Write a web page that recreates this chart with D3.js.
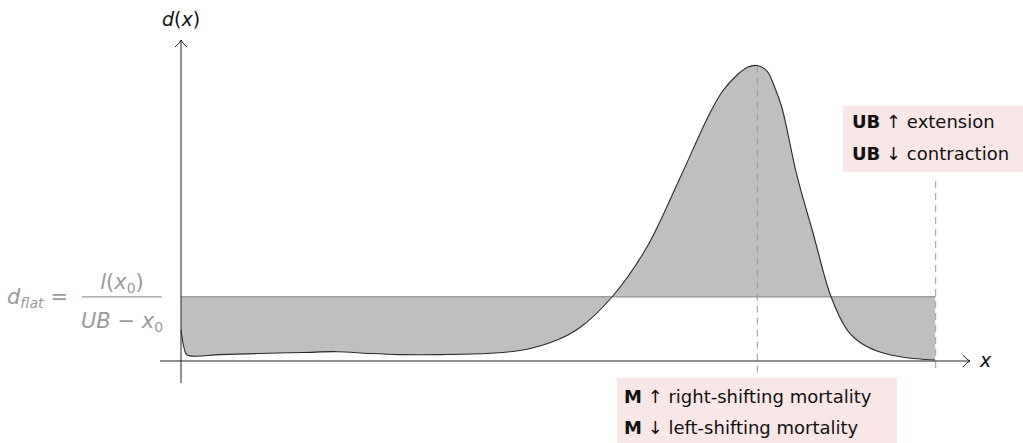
<!DOCTYPE html>
<html lang="en">
<head>
<meta charset="UTF-8">
<title>Flat density vs age-at-death density</title>
<style>
  body { margin: 0; background: #fff; font-family: "DejaVu Sans", sans-serif; }
  .box-text { font-size: 18px; fill: #111; }
  .formula { fill: #9a9a9a; font-size: 21px; }
</style>
</head>
<body>
<svg id="chart" width="1023" height="443"></svg>
<script src="https://d3js.org/d3.v7.min.js"></script>
<script>
// ages (x) and density values d(x), in units of d_flat
const ages = [0, 0.45, 0.9, 5.7, 11.5, 17.8, 22.7, 27.5, 31.9, 38, 45.0, 49.85, 54.8, 58.16,
              62.82, 67.92, 72.73, 76.81, 78.85, 81.04, 82.64, 83.95, 85.41, 86.58, 87.6,
              89.79, 92.12, 94.75, 97.08, 99.26, 101.88, 105.53, 109.9];
const dens = [0.48, 0.2, 0.094, 0.10, 0.117, 0.132, 0.145, 0.117, 0.10, 0.10, 0.12, 0.171, 0.327, 0.522,
              0.997, 1.776, 2.85, 3.801, 4.19, 4.455, 4.579, 4.603, 4.517, 4.252, 3.941,
              2.882, 1.994, 1.0, 0.486, 0.268, 0.14, 0.055, 0.016];
const x0 = 0;
const UB = 110;
const modeAge = 84;
const dFlat = 1;
const xMax = 115;
const yMax = 5;

const boxUB = [["UB", "\u2191", "extension"], ["UB", "\u2193", "contraction"]];
const boxM = [["M", "\u2191", "right-shifting mortality"], ["M", "\u2193", "left-shifting mortality"]];

const svg = d3.select("#chart");
const x = d3.scaleLinear().domain([x0, xMax]).range([181, 970]);
const y = d3.scaleLinear().domain([0, yMax]).range([361, 40]);

const pts = ages.map((a, i) => ({ a: a, d: dens[i] }));
const smooth = d3.curveCatmullRom.alpha(0.5);

// shaded gap between density and flat line
const area = d3.area()
  .x(d => x(d.a))
  .y0(y(dFlat))
  .y1(d => y(d.d))
  .curve(smooth);
svg.append("path").datum(pts)
  .attr("d", area)
  .attr("fill", "#bfbfbf");

// flat density line
svg.append("line")
  .attr("x1", x(x0)).attr("x2", x(UB))
  .attr("y1", y(dFlat)).attr("y2", y(dFlat))
  .attr("stroke", "#9c9c9c").attr("stroke-width", 1.5);

// dashed markers at mode and UB
svg.append("line")
  .attr("x1", x(modeAge)).attr("x2", x(modeAge))
  .attr("y1", y(4.6)).attr("y2", 376)
  .attr("stroke", "#9a9a9a").attr("stroke-dasharray", "7,5");
svg.append("line")
  .attr("x1", x(UB)).attr("x2", x(UB))
  .attr("y1", 181).attr("y2", 371)
  .attr("stroke", "#9a9a9a").attr("stroke-dasharray", "7,5");

// density curve
const line = d3.line()
  .x(d => x(d.a))
  .y(d => y(d.d))
  .curve(smooth);
svg.append("path").datum(pts)
  .attr("d", line)
  .attr("fill", "none")
  .attr("stroke", "#2a2a2a").attr("stroke-width", 1.1);

// axes with arrow heads
const ax = svg.append("g").attr("stroke", "#222").attr("fill", "none").attr("stroke-width", 1);
ax.append("line").attr("x1", 160).attr("x2", x(xMax)).attr("y1", y(0)).attr("y2", y(0));
ax.append("line").attr("x1", x(0)).attr("x2", x(0)).attr("y1", 383).attr("y2", y(yMax));
const ex = x(xMax), ey = y(0);
ax.append("path").attr("d", `M${ex - 7},${ey - 6} Q${ex - 3},${ey - 1} ${ex},${ey} Q${ex - 3},${ey + 1} ${ex - 7},${ey + 6}`);
const tx = x(0), ty = y(yMax);
ax.append("path").attr("d", `M${tx - 6},${ty + 7} Q${tx - 1},${ty + 3} ${tx},${ty} Q${tx + 1},${ty + 3} ${tx + 6},${ty + 7}`);

svg.append("text").attr("x", ex + 10).attr("y", ey + 6)
  .attr("font-size", 19).attr("font-style", "italic").attr("fill", "#111").text("x");
svg.append("text").attr("x", tx).attr("y", 26).attr("text-anchor", "middle")
  .attr("font-size", 19).attr("fill", "#111")
  .html('<tspan font-style="italic">d</tspan>(<tspan font-style="italic">x</tspan>)');

// flat density formula
const f = svg.append("g").attr("class", "formula");
f.append("text").attr("x", 7).attr("y", 304)
  .html('<tspan font-style="italic">d</tspan><tspan font-style="italic" font-size="14" dy="4">flat</tspan><tspan dy="-4" dx="7">=</tspan>');
f.append("line").attr("x1", 82).attr("x2", 162).attr("y1", y(dFlat)).attr("y2", y(dFlat))
  .attr("stroke", "#9a9a9a").attr("stroke-width", 1.3);
f.append("text").attr("x", 122).attr("y", 289).attr("text-anchor", "middle")
  .html('<tspan font-style="italic">l</tspan>(<tspan font-style="italic">x</tspan><tspan font-size="14" dy="4">0</tspan><tspan dy="-4">)</tspan>');
f.append("text").attr("x", 122).attr("y", 328).attr("text-anchor", "middle")
  .html('<tspan font-style="italic">UB</tspan> \u2212 <tspan font-style="italic">x</tspan><tspan font-size="14" dy="4">0</tspan>');

// annotation boxes
function noteBox(rows, bx, by, bw, bh, tx0, ty0, gap) {
  const g = svg.append("g");
  g.append("rect").attr("x", bx).attr("y", by).attr("width", bw).attr("height", bh).attr("fill", "#f9e6e6");
  rows.forEach((r, i) => {
    const t = g.append("text").attr("class", "box-text").attr("x", tx0).attr("y", ty0 + i * gap);
    t.append("tspan").attr("font-weight", "bold").text(r[0]);
    t.append("tspan").text(" " + r[1] + " " + r[2]);
  });
}
noteBox(boxUB, 843, 106, 180, 66, 852, 128, 32);
noteBox(boxM, 617, 378, 280, 65, 624, 403, 31);
</script>
</body>
</html>
